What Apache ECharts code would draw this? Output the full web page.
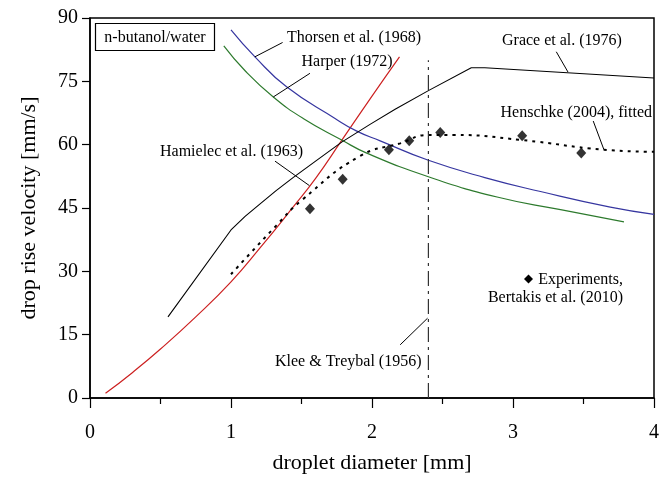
<!DOCTYPE html>
<html><head><meta charset="utf-8">
<script src="https://cdn.jsdelivr.net/npm/echarts@6/dist/echarts.min.js"></script>
<style>html,body{margin:0;padding:0;background:#fff}#c{width:671px;height:479px}</style>
</head><body><div id="c"></div>
<script>
// ---- data ----
const xTicks = [0, 1, 2, 3, 4];
const yTicks = [0, 15, 30, 45, 60, 75, 90];

const harperX = [0.11, 0.3, 0.5, 0.75, 1.0, 1.2, 1.44, 1.6, 1.785, 2.0, 2.195];
const harperY = [1.1, 6.0, 11.6, 19.2, 27.5, 35.3, 45.2, 52.0, 61.0, 71.5, 80.8];

const thorsenX = [1.0, 1.17, 1.394, 1.738, 1.892, 2.058, 2.4, 2.8, 3.195, 3.69, 4.0];
const thorsenY = [87.2, 80.8, 73.7, 66.2, 63.2, 60.9, 56.3, 52.2, 48.9, 45.2, 43.5];

const hamielecX = [0.949, 1.1, 1.3, 1.512, 1.785, 1.963, 2.4, 2.887, 3.337, 3.787];
const hamielecY = [83.4, 77.5, 71.3, 66.2, 61.1, 58.0, 52.4, 47.6, 44.6, 41.7];

const graceX = [0.553, 1.0, 1.1, 1.2, 1.32, 1.44, 1.6, 1.785, 1.986, 2.164, 2.4, 2.704, 2.8, 4.0];
const graceY = [19.2, 39.8, 43.0, 45.8, 49.1, 52.2, 56.1, 60.6, 64.8, 68.4, 72.8, 78.2, 78.2, 75.8];

const henschkeX = [1.0, 1.323, 1.5, 1.915, 2.2, 2.4, 2.58, 3.06, 3.645, 4.0];
const henschkeY = [29.3, 40.9, 46.8, 57.3, 60.3, 62.3, 62.3, 61.1, 58.8, 58.3];

const expX = [1.56, 1.792, 2.12, 2.264, 2.484, 3.065, 3.484];
const expY = [44.8, 51.8, 58.8, 60.9, 62.9, 62.1, 58.0];

const kleeX = [2.4, 2.4];
const kleeY = [0, 80];

// annotation leader lines: [x1, y1, x2, y2] in data units
const leaders = [
  [1.169, 80.8, 1.366, 84.2],   // Thorsen
  [1.30, 71.3, 1.56, 76.9],     // Harper
  [1.312, 56.1, 1.556, 50.3],   // Hamielec
  [3.307, 82.0, 3.39, 77.2],    // Grace
  [3.569, 65.6, 3.645, 58.8],   // Henschke
  [2.20, 12.6, 2.394, 18.9]     // Klee
];

const zip = (a, b) => a.map((v, i) => [v, b[i]]);
const FONT = '"Liberation Serif", "Times New Roman", serif';

const chart = echarts.init(document.getElementById('c'), null, {renderer: 'canvas'});

const series = [
  {type: 'line', data: zip(harperX, harperY), smooth: true, showSymbol: false,
   lineStyle: {color: '#cc2020', width: 1.2}, z: 3},
  {type: 'line', data: zip(thorsenX, thorsenY), smooth: true, showSymbol: false,
   lineStyle: {color: '#3636a0', width: 1.2}, z: 3},
  {type: 'line', data: zip(hamielecX, hamielecY), smooth: true, showSymbol: false,
   lineStyle: {color: '#2d7a2d', width: 1.2}, z: 3},
  {type: 'line', data: zip(graceX, graceY), smooth: false, showSymbol: false,
   lineStyle: {color: '#000', width: 1.1}, z: 3},
  {type: 'line', data: zip(henschkeX, henschkeY), smooth: true, showSymbol: false,
   lineStyle: {color: '#000', width: 2, type: [3, 5]}, z: 3},
  {type: 'line', data: zip(kleeX, kleeY), showSymbol: false,
   lineStyle: {color: '#333', width: 1.2, type: [15, 5, 3, 5]}, z: 3},
  {type: 'scatter', data: zip(expX, expY), symbol: 'diamond', symbolSize: [10, 11],
   itemStyle: {color: '#000'}, z: 5}
];
leaders.forEach(l => series.push({type: 'line', data: [[l[0], l[1]], [l[2], l[3]]],
  showSymbol: false, lineStyle: {color: '#000', width: 1}, z: 4, silent: true}));

chart.setOption({
  animation: false,
  grid: {left: 90, right: 17, top: 18, bottom: 75, show: true, borderColor: '#000', borderWidth: 1.5, backgroundColor: 'transparent'},
  xAxis: {
    type: 'value', min: xTicks[0], max: xTicks[xTicks.length - 1], interval: 1,
    name: 'droplet diameter [mm]', nameLocation: 'middle', nameGap: 54,
    nameTextStyle: {fontFamily: FONT, fontSize: 22, color: '#000'},
    axisLine: {show: true, onZero: false, lineStyle: {color: '#000', width: 1.5}},
    axisTick: {show: true, inside: false, length: 10, lineStyle: {color: '#000', width: 1.2}},
    minorTick: {show: true, splitNumber: 2, length: 6, lineStyle: {color: '#000', width: 1.2}},
    axisLabel: {fontFamily: FONT, fontSize: 20, color: '#000', margin: 25},
    splitLine: {show: false}
  },
  yAxis: {
    type: 'value', min: yTicks[0], max: yTicks[yTicks.length - 1], interval: 15,
    name: 'drop rise velocity [mm/s]', nameLocation: 'middle', nameGap: 50,
    nameTextStyle: {fontFamily: FONT, fontSize: 22, color: '#000'},
    axisLine: {show: true, onZero: false, lineStyle: {color: '#000', width: 1.5}},
    axisTick: {show: true, inside: false, length: 8, lineStyle: {color: '#000', width: 1.2}},
    axisLabel: {fontFamily: FONT, fontSize: 20, color: '#000', margin: 12},
    splitLine: {show: false}
  },
  series: series
});

// annotation texts (pixel anchors)
const T = (x, y, text, align) => ({type: 'text', x: x, y: y, z: 10,
  style: {text: text, font: '16px ' + FONT, fill: '#000', align: align || 'left', verticalAlign: 'middle'}});
chart.setOption({graphic: [
  {type: 'rect', shape: {x: 95.5, y: 23.5, width: 119, height: 27}, style: {fill: '#fff', stroke: '#000', lineWidth: 1.2}, z: 10},
  T(155, 37.5, 'n-butanol/water', 'center'),
  T(287, 38, 'Thorsen et al. (1968)'),
  T(301.5, 61.5, 'Harper (1972)'),
  T(160, 151.5, 'Hamielec et al. (1963)'),
  T(502, 40.5, 'Grace et al. (1976)'),
  T(500.5, 113, 'Henschke (2004), fitted'),
  T(623, 280, 'Experiments,', 'right'),
  T(623, 297.5, 'Bertakis et al. (2010)', 'right'),
  T(275, 362, 'Klee & Treybal (1956)'),
  {type: 'polygon', shape: {points: [[528.5, 274.5], [533, 279], [528.5, 283.5], [524, 279]]}, style: {fill: '#000'}, z: 10}
]});
</script></body></html>
